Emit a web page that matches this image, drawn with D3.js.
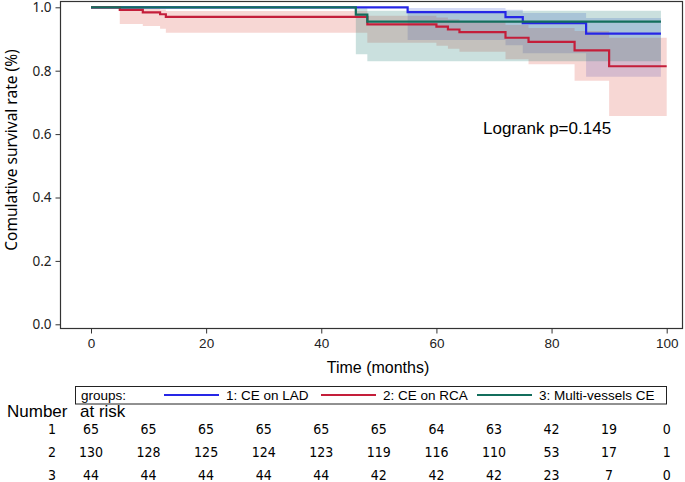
<!DOCTYPE html>
<html>
<head>
<meta charset="utf-8">
<script src="https://cdn.jsdelivr.net/npm/d3@7"></script>
<style>
  body { margin: 0; background: #fff; }
  svg { display: block; }
  .tick text { fill: #222; }
</style>
</head>
<body>
<svg id="chart" width="685" height="482"></svg>
<script>
// Kaplan-Meier steps (time in months, survival, 95% band)
const groupNames = ['1: CE on LAD', '2: CE on RCA', '3: Multi-vessels CE'];
const groupColors = ['#2626e6', '#c41e3a', '#136e5c'];
const bandColors = ['#4a62d8', '#dc5046', '#1a7a70'];

const ladTimes = [0, 55, 72, 75, 86, 99];
const ladSurv  = [1, 0.985, 0.969, 0.950, 0.917, 0.917];
const ladLower = [1, 0.897, 0.880, 0.855, 0.781, 0.781];
const ladUpper = [1, 0.998, 0.992, 0.982, 0.966, 0.966];

const rcaTimes = [0, 5, 9, 12, 13, 48, 60, 62, 64, 72, 76, 84, 90, 100];
const rcaSurv  = [1, 0.992, 0.984, 0.978, 0.970, 0.946, 0.939, 0.930, 0.922, 0.904, 0.891, 0.864, 0.814, 0.814];
const rcaLower = [1, 0.947, 0.941, 0.932, 0.920, 0.888, 0.879, 0.869, 0.860, 0.836, 0.820, 0.768, 0.657, 0.657];
const rcaUpper = [1, 0.999, 0.996, 0.993, 0.988, 0.973, 0.968, 0.962, 0.956, 0.944, 0.935, 0.925, 0.904, 0.904];

const mvTimes = [0, 46, 48, 99];
const mvSurv  = [1, 0.977, 0.955, 0.955];
const mvLower = [1, 0.852, 0.830, 0.830];
const mvUpper = [1, 0.997, 0.989, 0.989];

const riskTimes = [0, 10, 20, 30, 40, 50, 60, 70, 80, 90, 100];
const riskLad = [65, 65, 65, 65, 65, 65, 64, 63, 42, 19, 0];
const riskRca = [130, 128, 125, 124, 123, 119, 116, 110, 53, 17, 1];
const riskMv  = [44, 44, 44, 44, 44, 42, 42, 42, 23, 7, 0];

const xTicks = [0, 20, 40, 60, 80, 100];
const yTicks = [0, 0.2, 0.4, 0.6, 0.8, 1.0];

const svg = d3.select('#chart');
const sans = '"Liberation Sans", Arial, sans-serif';
const narrow = '"Liberation Sans Narrow", "DejaVu Sans Condensed", sans-serif';

const x = d3.scaleLinear().domain([0, 100]).range([91, 666.7]);
const y = d3.scaleLinear().domain([0, 1]).range([324.3, 7.3]);

function rows(times, s, lo, hi) {
  return times.map((t, i) => ({t, s: s[i], lo: lo[i], hi: hi[i]}));
}
const groups = [
  rows(ladTimes, ladSurv, ladLower, ladUpper),
  rows(rcaTimes, rcaSurv, rcaLower, rcaUpper),
  rows(mvTimes, mvSurv, mvLower, mvUpper)
];

// bands
const area = d3.area().curve(d3.curveStepAfter)
  .x(d => x(d.t)).y0(d => y(d.lo)).y1(d => y(d.hi));
svg.append('g').selectAll('path').data(groups).enter().append('path')
  .attr('d', d => area(d.filter(p => p.lo < 1)))
  .attr('fill', (d, i) => bandColors[i])
  .attr('fill-opacity', 0.23);

// steps
const line = d3.line().curve(d3.curveStepAfter).x(d => x(d.t)).y(d => y(d.s));
svg.append('g').selectAll('path').data(groups).enter().append('path')
  .attr('d', line)
  .attr('fill', 'none')
  .attr('stroke', (d, i) => groupColors[i])
  .attr('stroke-width', 2.2);

// frame
svg.append('rect')
  .attr('x', 60.5).attr('y', 1.5).attr('width', 622).attr('height', 327)
  .attr('fill', 'none').attr('stroke', '#333').attr('stroke-width', 1.2);

// axes
const gx = svg.append('g').attr('transform', 'translate(0,328.5)')
  .call(d3.axisBottom(x).tickValues(xTicks).tickSize(5).tickPadding(5));
gx.select('.domain').remove();
gx.selectAll('text').style('font-family', sans).style('font-size', '13.5px');

const gy = svg.append('g').attr('transform', 'translate(60.5,0)')
  .call(d3.axisLeft(y).tickValues(yTicks).tickSize(5).tickPadding(4).tickFormat(d3.format('.1f')));
gy.select('.domain').remove();
gy.selectAll('text').style('font-family', '"Noto Sans", sans-serif').style('font-size', '13.5px');
svg.selectAll('.tick line').attr('stroke', '#333');

svg.append('text')
  .attr('transform', 'translate(17,150) rotate(-90)')
  .attr('text-anchor', 'middle')
  .style('font-family', '"Noto Sans", sans-serif').style('font-size', '15.5px')
  .text('Comulative survival rate (%)');

svg.append('text')
  .attr('x', 378).attr('y', 373).attr('text-anchor', 'middle')
  .style('font-family', sans).style('font-size', '16px')
  .text('Time (months)');

svg.append('text')
  .attr('x', 483).attr('y', 134)
  .style('font-family', sans).style('font-size', '17px')
  .text('Logrank p=0.145');

// legend
const lg = svg.append('g').style('font-family', sans).style('font-size', '13.5px');
lg.append('rect').attr('x', 75.5).attr('y', 386.5).attr('width', 591).attr('height', 17.5)
  .attr('fill', 'none').attr('stroke', '#222');
lg.append('text').attr('x', 81).attr('y', 400).text('groups:');
const legendLineX = [164, 321, 477];
groupNames.forEach((name, i) => {
  lg.append('line')
    .attr('x1', legendLineX[i]).attr('x2', legendLineX[i] + 55)
    .attr('y1', 395).attr('y2', 395)
    .attr('stroke', groupColors[i]).attr('stroke-width', 2.2);
  lg.append('text').attr('x', legendLineX[i] + 62).attr('y', 400).text(name);
});

// number at risk
svg.append('text').attr('x', 7).attr('y', 417)
  .style('font-family', sans).style('font-size', '17px').text('Number');
svg.append('text').attr('x', 80).attr('y', 417)
  .style('font-family', sans).style('font-size', '17px').text('at risk');

const riskRows = [riskLad, riskRca, riskMv];
const rowY = [429, 452, 475];
riskRows.forEach((vals, r) => {
  const g = svg.append('g').style('font-family', narrow).style('font-size', '14px');
  g.append('text').attr('x', 52).attr('y', rowY[r]).attr('dy', '0.35em')
    .attr('text-anchor', 'middle').text(r + 1);
  g.selectAll('text.n').data(vals).enter().append('text').attr('class', 'n')
    .attr('x', (d, i) => x(riskTimes[i])).attr('y', rowY[r]).attr('dy', '0.35em')
    .attr('text-anchor', 'middle').text(d => d);
});
</script>
</body>
</html>
